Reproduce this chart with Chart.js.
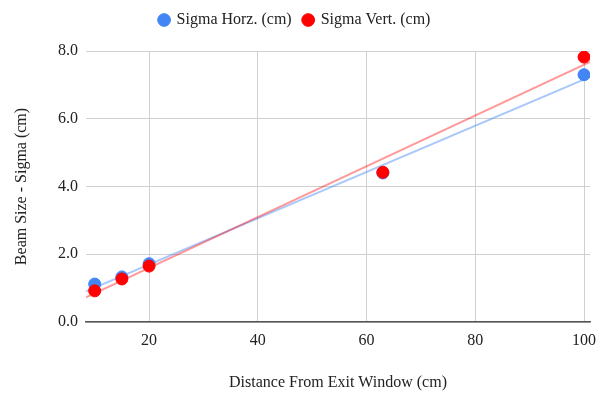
<!DOCTYPE html>
<html>
<head>
<meta charset="utf-8">
<script src="https://cdn.jsdelivr.net/npm/chart.js@4.4.0/dist/chart.umd.min.js"></script>
<style>
  html, body { margin: 0; padding: 0; background: #fff; }
  #wrap { width: 603px; height: 395px; }
</style>
</head>
<body>
<div id="wrap"><canvas id="beam-chart"></canvas></div>
<script>
// distance from exit window (cm)
var distances = [10, 15, 20, 63, 100];
var sigmaHorz = [1.12, 1.33, 1.72, 4.40, 7.30];
var sigmaVert = [0.92, 1.27, 1.65, 4.42, 7.82];
var xTickValues = [20, 40, 60, 80, 100];
var xMin = 8.4, xMax = 101.1;

// least squares trendline, same as the sheet's linear trendline
function trend(xs, ys) {
  var n = xs.length, mx = 0, my = 0;
  for (var i = 0; i < n; i++) { mx += xs[i] / n; my += ys[i] / n; }
  var sxx = 0, sxy = 0;
  for (var j = 0; j < n; j++) {
    sxx += (xs[j] - mx) * (xs[j] - mx);
    sxy += (xs[j] - mx) * (ys[j] - my);
  }
  var m = sxy / sxx, b = my - m * mx;
  return [{x: xMin, y: m * xMin + b}, {x: xMax, y: m * xMax + b}];
}

function pts(xs, ys) {
  return xs.map(function (x, i) { return {x: x, y: ys[i]}; });
}

var serif = "'Liberation Serif', 'DejaVu Serif', serif";

// extra room under the legend
let legendGap = {
  id: "legendGap",
  beforeInit: function (chart) {
    var fit = chart.legend.fit;
    chart.legend.fit = function () {
      fit.bind(chart.legend)();
      this.height += 13;
    };
  }
};

let beamChart = new Chart("beam-chart", {
  type: "scatter",
  data: {
    datasets: [{
        label: "Sigma Horz. (cm)",
        data: pts(distances, sigmaHorz),
        backgroundColor: "#4285f4",
        borderColor: "#4285f4",
        pointRadius: 6,
        order: 1
    }, {
        label: "Sigma Vert. (cm)",
        data: pts(distances, sigmaVert),
        backgroundColor: "#ff0000",
        borderColor: "#ff0000",
        pointRadius: 6,
        order: 0
    }, {
        label: "trend-h",
        type: "line",
        data: trend(distances, sigmaHorz),
        borderColor: "rgba(66,133,244,0.45)",
        borderWidth: 2,
        pointRadius: 0,
        order: 3
    }, {
        label: "trend-v",
        type: "line",
        data: trend(distances, sigmaVert),
        borderColor: "rgba(255,0,0,0.4)",
        borderWidth: 2,
        pointRadius: 0,
        order: 2
    }]
  },
  options: {
    responsive: true,
    maintainAspectRatio: false,
    animation: false,
    layout: { padding: { top: 0, right: 13, left: 0, bottom: 0 } },
    plugins: {
      legend: {
        position: "top",
        labels: {
          usePointStyle: true,
          pointStyle: "circle",
          boxWidth: 9,
          boxHeight: 9,
          padding: 12,
          color: "#222",
          font: { family: serif, size: 16 },
          filter: function (item) { return item.text.indexOf("trend") !== 0; },
          sort: function (a, b) { return a.datasetIndex - b.datasetIndex; }
        }
      },
      tooltip: { enabled: false }
    },
    scales: {
      x: {
        type: "linear",
        min: xMin,
        max: xMax,
        afterBuildTicks: function (scale) {
          scale.ticks = xTickValues.map(function (v) { return {value: v}; });
        },
        afterFit: function (scale) {
          scale.height = 73;
          scale.paddingRight = 0;
        },
        grid: { color: "#d0d0d0", drawTicks: false },
        border: { color: "#555", width: 1.5 },
        ticks: { padding: 9, color: "#222", font: { family: serif, size: 16 } },
        title: {
          display: true,
          text: "Distance From Exit Window (cm)",
          color: "#222",
          font: { family: serif, size: 16 },
          padding: { top: 0, bottom: 3 }
        }
      },
      y: {
        min: 0,
        max: 8,
        afterFit: function (scale) { scale.width = 86; },
        grid: { color: "#d0d0d0", drawTicks: false },
        border: { display: false },
        ticks: {
          stepSize: 2,
          padding: 8,
          color: "#222",
          font: { family: serif, size: 16 },
          callback: function (v) { return v.toFixed(1); }
        },
        title: {
          display: true,
          text: "Beam Size - Sigma (cm)",
          color: "#222",
          font: { family: serif, size: 16 },
          padding: { top: 12, bottom: 0 }
        }
      }
    }
  },
  plugins: [legendGap]
});
</script>
</body>
</html>
